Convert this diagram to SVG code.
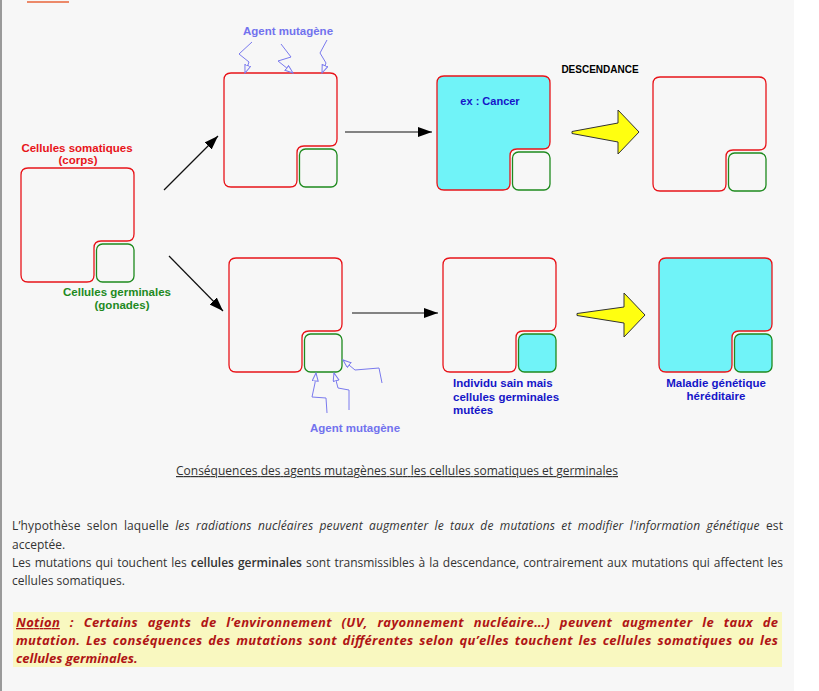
<svg xmlns="http://www.w3.org/2000/svg" width="819" height="691" viewBox="0 0 819 691">
<style>
.lbl{font-family:"Liberation Sans",Arial,sans-serif;font-weight:bold;font-size:11.5px}
.red{fill:#e8141a}.grn{fill:#1e8a1e}.blu{fill:#1515c8}.agt{fill:#7272ee}
.soma{stroke:#e8141a;stroke-width:1.3}
.germ{stroke:#1e8a1e;stroke-width:1.3}
.conn{stroke:#111;stroke-width:1.2;fill:none}
.zz{stroke:#7a7aee;stroke-width:1;fill:none}
.yel{fill:#ffff10;stroke:#333;stroke-width:1}
.txt{font-family:"Open Sans",sans-serif;font-size:12px;fill:#333}
.notion{font-family:"Open Sans",sans-serif;font-size:13px;font-weight:bold;font-style:italic;fill:#b01515}
</style>
<defs>
<path id="soma" d="M7,0 H106 Q113,0 113,7 V66 Q113,73 106,73 H80 Q73,73 73,80 V107 Q73,114 66,114 H7 Q0,114 0,107 V7 Q0,0 7,0 Z"/>
<rect id="germ" x="75.5" y="76" width="37.5" height="38" rx="6"/>
<marker id="ah" markerUnits="userSpaceOnUse" markerWidth="15" markerHeight="11" refX="14" refY="5" orient="auto">
<path d="M0,0 L14,5 L0,10 Z" fill="#000"/>
</marker>
<marker id="oh" markerUnits="userSpaceOnUse" markerWidth="10" markerHeight="9" refX="8.5" refY="3.5" orient="auto">
<path d="M0.5,0.5 L8.5,3.5 L0.5,6.5 Z" fill="#f7f7f7" stroke="#7a7aee" stroke-width="1"/>
</marker>
</defs>
<rect x="0" y="0" width="819" height="691" fill="#f7f7f7"/>
<rect x="794" y="0" width="25" height="691" fill="#ffffff"/>
<rect x="0" y="0" width="2" height="691" fill="#9a9a9a"/>
<line x1="27" y1="2" x2="69" y2="2" stroke="#e8643a" stroke-width="1.5"/>

<g id="cell-somatic-initial" transform="translate(21,168)">
<use href="#soma" class="soma" fill="#f7f7f7"/>
<use href="#germ" class="germ" fill="#f7f7f7"/>
</g>
<g id="cell-top-mutated" transform="translate(224,73)">
<use href="#soma" class="soma" fill="#f7f7f7"/>
<use href="#germ" class="germ" fill="#f7f7f7"/>
</g>
<g id="cell-cancer" transform="translate(437,76)">
<use href="#soma" class="soma" fill="#70f3f8"/>
<use href="#germ" class="germ" fill="#f7f7f7"/>
</g>
<g id="cell-top-descendance" transform="translate(653,77)">
<use href="#soma" class="soma" fill="#f7f7f7"/>
<use href="#germ" class="germ" fill="#f7f7f7"/>
</g>
<g id="cell-bottom-mutated" transform="translate(229,258)">
<use href="#soma" class="soma" fill="#f7f7f7"/>
<use href="#germ" class="germ" fill="#f7f7f7"/>
</g>
<g id="cell-individu-sain" transform="translate(443,258)">
<use href="#soma" class="soma" fill="#f7f7f7"/>
<use href="#germ" class="germ" fill="#70f3f8"/>
</g>
<g id="cell-maladie" transform="translate(659,258)">
<use href="#soma" class="soma" fill="#70f3f8"/>
<use href="#germ" class="germ" fill="#70f3f8"/>
</g>

<g id="connectors">
<line class="conn" x1="164" y1="190" x2="218" y2="136" marker-end="url(#ah)"/>
<line class="conn" x1="169" y1="256" x2="223" y2="311" marker-end="url(#ah)"/>
<line class="conn" x1="345" y1="132" x2="432" y2="132" marker-end="url(#ah)"/>
<line class="conn" x1="352" y1="313" x2="438" y2="313" marker-end="url(#ah)"/>
<polygon class="yel" points="572,131.5 618,123 618,110 639,132 618,154 618,142 572,133.5"/>
<polygon class="yel" points="577,313.5 624,307 624,293 645,315 624,337 624,323 577,315.5"/>
<polyline class="zz" points="252,42 239,54 249,62 245,73" marker-end="url(#oh)"/>
<polyline class="zz" points="281,44 291,57 278,61 293,73" marker-end="url(#oh)"/>
<polyline class="zz" points="327,40 320,53 326,63 322,73" marker-end="url(#oh)"/>
<polyline class="zz" points="327,413 326,398 312,397 315,383 316,373" marker-end="url(#oh)"/>
<polyline class="zz" points="349,410 349,390 338,388 334,373" marker-end="url(#oh)"/>
<polyline class="zz" points="382,383 379,368 355,370 343,360" marker-end="url(#oh)"/>
</g>

<g id="labels">
<text class="lbl red" x="77" y="152" text-anchor="middle">Cellules somatiques</text>
<text class="lbl red" x="78" y="164" text-anchor="middle">(corps)</text>
<text class="lbl grn" x="117" y="296" text-anchor="middle">Cellules germinales</text>
<text class="lbl grn" x="122" y="309" text-anchor="middle">(gonades)</text>
<text class="lbl agt" x="288" y="35" text-anchor="middle">Agent mutagène</text>
<text class="lbl agt" x="355" y="432" text-anchor="middle">Agent mutagène</text>
<text class="lbl" x="600" y="73" text-anchor="middle" style="font-size:10px" fill="#000">DESCENDANCE</text>
<text class="lbl blu" x="490" y="105" text-anchor="middle" style="font-size:11px">ex : Cancer</text>
<text class="lbl blu" x="453" y="387">Individu sain mais</text>
<text class="lbl blu" x="453" y="401">cellules germinales</text>
<text class="lbl blu" x="453" y="414">mutées</text>
<text class="lbl blu" x="716" y="387" text-anchor="middle">Maladie génétique</text>
<text class="lbl blu" x="716" y="400" text-anchor="middle">héréditaire</text>
</g>

<g id="caption">
<text class="txt" x="176" y="475" textLength="442" lengthAdjust="spacing" text-decoration="underline">Conséquences des agents mutagènes sur les cellules somatiques et germinales</text>
</g>

<g id="paragraph">
<text class="txt" x="12" y="530" textLength="771" lengthAdjust="spacing" style="word-spacing:3px">L’hypothèse selon laquelle <tspan font-style="italic">les radiations nucléaires peuvent augmenter le taux de mutations et modifier l'information génétique</tspan> est</text>
<text class="txt" x="12" y="549">acceptée.</text>
<text class="txt" x="12" y="567" textLength="771" lengthAdjust="spacing" style="word-spacing:1px">Les mutations qui touchent les <tspan font-weight="600">cellules germinales</tspan> sont transmissibles à la descendance, contrairement aux mutations qui affectent les</text>
<text class="txt" x="12" y="585">cellules somatiques.</text>
</g>

<g id="notion">
<rect x="13" y="612" width="769" height="55" fill="#f9f8c0"/>
<text class="notion" x="16" y="627" textLength="762" lengthAdjust="spacing" style="word-spacing:6px"><tspan text-decoration="underline">Notion</tspan> : Certains agents de l’environnement (UV, rayonnement nucléaire…) peuvent augmenter le taux de</text>
<text class="notion" x="16" y="645" textLength="762" lengthAdjust="spacing" style="word-spacing:2px">mutation. Les conséquences des mutations sont différentes selon qu’elles touchent les cellules somatiques ou les</text>
<text class="notion" x="16" y="663">cellules germinales.</text>
</g>
</svg>
